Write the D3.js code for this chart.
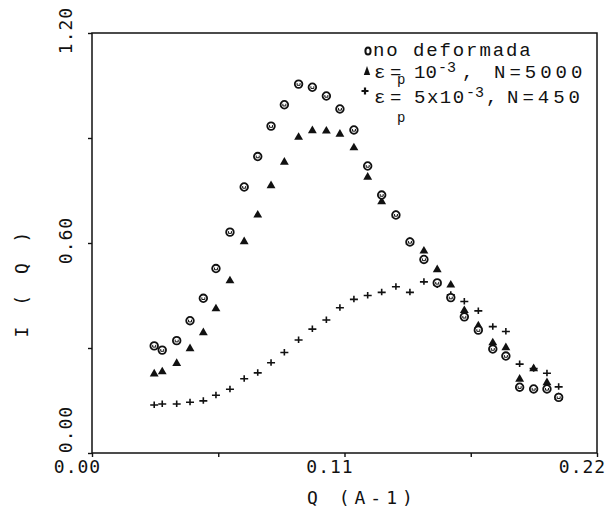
<!DOCTYPE html>
<html lang="es">
<head>
<meta charset="UTF-8" />
<title>I(Q)</title>
<script src="https://d3js.org/d3.v7.min.js"></script>
<style>
  body { margin: 0; background: #fff; }
  svg { display: block; }
  .axis text { font-family: "DejaVu Sans Mono", monospace; font-size: 18px; letter-spacing: 1px; fill: #111; }
  .axis path, .axis line { stroke: #111; stroke-width: 1.4; }
  .title { font-family: "DejaVu Sans Mono", monospace; font-size: 18px; fill: #111; }
  .legend text { font-family: "Liberation Mono", "Courier New", monospace; font-size: 19px; fill: #111; }
</style>
</head>
<body>
<div id="chart"></div>
<script>
// Q values shared by the three series (A^-1)
const qValues = [0.0271, 0.0306, 0.0369, 0.0427, 0.0485, 0.0540, 0.0601, 0.0663, 0.0722, 0.0780,
  0.0838, 0.0900, 0.0960, 0.1021, 0.1080, 0.1141, 0.1201, 0.1262, 0.1324, 0.1385,
  0.1446, 0.1504, 0.1563, 0.1622, 0.1683, 0.1746, 0.1803, 0.1863, 0.1924, 0.1982, 0.2033];

// no deformada
const noDeformada = [0.306, 0.294, 0.321, 0.378, 0.442, 0.527, 0.631, 0.760, 0.847, 0.934,
  0.995, 1.054, 1.045, 1.020, 0.983, 0.923, 0.820, 0.737, 0.680, 0.603,
  0.553, 0.486, 0.444, 0.389, 0.351, 0.297, 0.277, 0.188, 0.183, 0.183, 0.159];

// eps_p = 10^-3, N=5000
const eps1e3 = [0.226, 0.232, 0.256, 0.298, 0.344, 0.412, 0.492, 0.604, 0.680, 0.764,
  0.831, 0.902, 0.921, 0.920, 0.911, 0.872, 0.788, 0.718, 0.680, 0.603,
  0.577, 0.524, 0.480, 0.407, 0.363, 0.315, 0.301, 0.211, 0.241, 0.201, 0.159];

// eps_p = 5x10^-3, N=450
const eps5e3 = [0.137, 0.140, 0.140, 0.145, 0.149, 0.165, 0.182, 0.212, 0.229, 0.258,
  0.287, 0.323, 0.354, 0.380, 0.415, 0.439, 0.450, 0.459, 0.475, 0.459,
  0.489, 0.480, 0.452, 0.433, 0.406, 0.361, 0.347, 0.254, 0.241, 0.228, 0.189];

const xTicks = [0, 0.055, 0.11, 0.165, 0.22];
const xTickLabels = {0: "0.00", 0.11: "0.11", 0.22: "0.22"};
const yTicks = [0, 0.3, 0.6, 0.9, 1.2];
const yTickLabels = {0: "0.00", 0.6: "0.60", 1.2: "1.20"};

const W = 608, H = 517;
const margin = { top: 33, right: 11, bottom: 64, left: 92 };

const svg = d3.select("#chart").append("svg")
  .attr("width", W).attr("height", H);

const x = d3.scaleLinear().domain([0, 0.22]).range([margin.left, W - margin.right]);
const y = d3.scaleLinear().domain([0, 1.2]).range([H - margin.bottom, margin.top]);

// frame
svg.append("rect")
  .attr("x", x(0)).attr("y", y(1.2))
  .attr("width", x(0.22) - x(0)).attr("height", y(0) - y(1.2))
  .attr("fill", "none").attr("stroke", "#111").attr("stroke-width", 1.5);

// x axis
const gx = svg.append("g").attr("class", "axis")
  .attr("transform", `translate(0,${y(0)})`)
  .call(d3.axisBottom(x).tickValues(xTicks).tickSize(4).tickSizeOuter(0)
    .tickFormat(d => xTickLabels[d] || ""));
gx.select(".domain").remove();
gx.selectAll("text").attr("y", 20).attr("dy", 0).attr("dx", -15);

// y axis
const gy = svg.append("g").attr("class", "axis")
  .attr("transform", `translate(${x(0)},0)`)
  .call(d3.axisLeft(y).tickValues(yTicks).tickSize(4).tickSizeOuter(0)
    .tickFormat(d => yTickLabels[d] || ""));
gy.select(".domain").remove();
gy.selectAll("text")
  .attr("x", null).attr("dy", null)
  .attr("text-anchor", "middle")
  .attr("transform", d => `translate(-20,${d === 0 ? -24 : -3}) rotate(-90)`);

// axis titles
svg.append("text").attr("class", "title")
  .attr("transform", "translate(28,282) rotate(-90)")
  .attr("text-anchor", "middle")
  .style("letter-spacing", "5px")
  .text("I ( Q )");

svg.append("text").attr("class", "title")
  .attr("x", 307).attr("y", 504)
  .style("letter-spacing", "5px")
  .text("Q (A-1)");

// markers
const circlePts = qValues.map((q, i) => [q, noDeformada[i]]);
const triPts = qValues.map((q, i) => [q, eps1e3[i]]);
const crossPts = qValues.map((q, i) => [q, eps5e3[i]]);

const crossPath = "M-4,0H4M0,-3.5V3";
const triPath = d3.symbol().type(d3.symbolTriangle).size(34)();

svg.append("g").selectAll("path")
  .data(crossPts).join("path")
  .attr("transform", d => `translate(${x(d[0])},${y(d[1])})`)
  .attr("d", crossPath)
  .attr("stroke", "#111").attr("stroke-width", 1.6).attr("fill", "none");

svg.append("g").selectAll("path")
  .data(triPts).join("path")
  .attr("transform", d => `translate(${x(d[0])},${y(d[1])})`)
  .attr("d", triPath)
  .attr("fill", "#111");

const cg = svg.append("g").selectAll("g")
  .data(circlePts).join("g")
  .attr("transform", d => `translate(${x(d[0])},${y(d[1])})`);
cg.append("circle").attr("r", 3.8)
  .attr("fill", "#fff").attr("stroke", "#111").attr("stroke-width", 1.8);
cg.append("path").attr("d", "M-1.5,-1V1.2H1.5V-1")
  .attr("fill", "none").attr("stroke", "#111").attr("stroke-width", 1);

// legend
const lg = svg.append("g").attr("class", "legend");
lg.append("ellipse").attr("cx", 368).attr("cy", 51).attr("rx", 2.6).attr("ry", 3.6)
  .attr("fill", "none").attr("stroke", "#111").attr("stroke-width", 2);
lg.append("path").attr("transform", "translate(367,71)")
  .attr("d", "M0,-5L3.2,4H-3.2Z").attr("fill", "#111");
lg.append("path").attr("transform", "translate(365,91)")
  .attr("d", "M-3.5,0H3.5M0,-3.5V3.5").attr("stroke", "#111").attr("stroke-width", 2.2);

lg.append("text").attr("x", 373).attr("y", 56)
  .style("letter-spacing", "1.9px").text("no deformada");

const r2 = lg.append("text").attr("y", 78);
r2.append("tspan").attr("x", 374).text("\u03b5");
r2.append("tspan").attr("x", 390).text("=");
r2.append("tspan").attr("x", 414).text("10");
r2.append("tspan").attr("x", 438).attr("y", 72).style("font-size", "15px").text("-3");
r2.append("tspan").attr("x", 462).attr("y", 78).text(",");
r2.append("tspan").attr("x", 494).style("letter-spacing", "4px").text("N=5000");

lg.append("text").attr("x", 397).attr("y", 84).style("font-size", "14px").text("p");

const r3 = lg.append("text").attr("y", 103);
r3.append("tspan").attr("x", 374).text("\u03b5");
r3.append("tspan").attr("x", 390).text("=");
r3.append("tspan").attr("x", 414).style("letter-spacing", "1.5px").text("5x10");
r3.append("tspan").attr("x", 466).attr("y", 97).style("font-size", "15px").text("-3");
r3.append("tspan").attr("x", 486).attr("y", 103).text(",");
r3.append("tspan").attr("x", 507).style("letter-spacing", "4px").text("N=450");

lg.append("text").attr("x", 397).attr("y", 122).style("font-size", "14px").text("p");
</script>
</body>
</html>
